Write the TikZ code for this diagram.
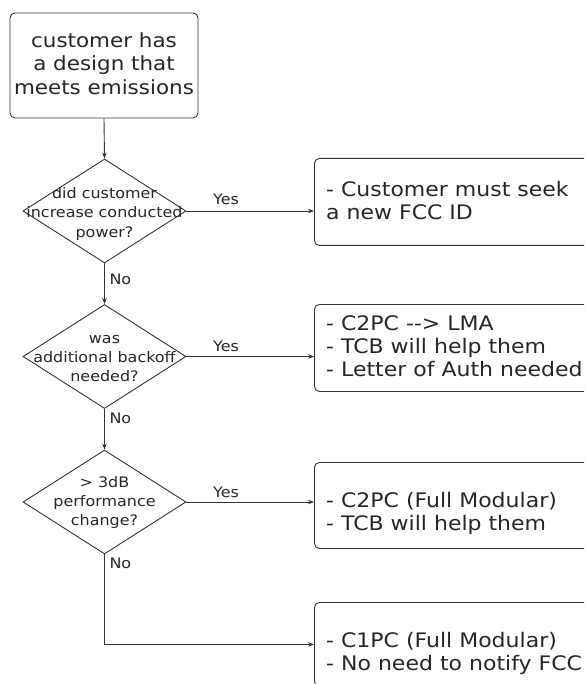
\documentclass[tikz,border=0pt]{standalone}
\usepackage{fontspec}
\setmainfont{DejaVu Sans}[FakeStretch=1.1]
\usetikzlibrary{shapes.geometric,arrows.meta}

\tikzset{
  flowline/.style={draw=black!80, line width=0.9pt},
  flowarrow/.style={flowline, -{Stealth[length=6pt,width=4.5pt]}},
  startbox/.style={draw=black!80, line width=0.9pt, rounded corners=5pt, minimum width=188pt, minimum height=105pt, inner sep=0pt},
  decision/.style={draw=black!80, line width=0.9pt, diamond, minimum width=163pt, minimum height=104pt, inner sep=0pt},
  resultbox/.style={draw=black!80, line width=0.9pt, rounded corners=5pt, anchor=north west, minimum width=300pt, inner sep=0pt},
  starttext/.style={align=center, inner sep=0pt, text=black!85, font=\fontsize{19.5}{23.5}\selectfont},
  qtext/.style={align=center, inner sep=0pt, text=black!85, font=\fontsize{14.5}{19}\selectfont},
  restext/.style={align=left, anchor=west, inner sep=0pt, text=black!85, font=\fontsize{20}{23}\selectfont},
  yesno/.style={text=black!85, font=\fontsize{14.5}{17}\selectfont}
}

\begin{document}
\begin{tikzpicture}[x=1pt, y=-1pt]
\clip (0,0) rectangle (584,684);

% start
\node[startbox] (start) at (104,65.5) {};
\node[starttext] (starttxt) at (104,63.5) {customer has\\a design that\\meets emissions};

% the three questions
\node[decision] (q1) at (104.5,211) {};
\node[qtext] (q1txt) at (104.5,214) {did customer\\increase conducted\\power?};
\node[decision] (q2) at (104.5,356.5) {};
\node[qtext] (q2txt) at (104.5,359) {was\\additional backoff\\needed?};
\node[decision] (q3) at (104.5,502) {};
\node[qtext] (q3txt) at (104.5,502) {> 3dB\\performance\\change?};

% outcomes
\node[resultbox, minimum height=87pt] (r1) at (314,158) {};
\node[restext] (r1txt) at (326,200.5) {- Customer must seek\\a new FCC ID};
\node[resultbox, minimum height=87pt] (r2) at (314,304) {};
\node[restext] (r2txt) at (326,346) {- C2PC {-}{-}> LMA\\- TCB will help them\\- Letter of Auth needed};
\node[resultbox, minimum height=86pt] (r3) at (314,462) {};
\node[restext] (r3txt) at (326,513.5) {- C2PC (Full Modular)\\- TCB will help them};
\node[resultbox, minimum height=84pt] (r4) at (314,602) {};
\node[restext] (r4txt) at (326,653.5) {- C1PC (Full Modular)\\- No need to notify FCC};

% connectors
\draw[flowarrow] (start.south) -- (q1.north);
\draw[flowarrow] (q1.south) -- (q2.north);
\draw[flowarrow] (q2.south) -- (q3.north);
\draw[flowarrow] (q1.east) -- (q1.east -| r1.west);
\draw[flowarrow] (q2.east) -- (q2.east -| r2.west);
\draw[flowarrow] (q3.east) -- (q3.east -| r3.west);
\draw[flowarrow] (q3.south) |- (r4.west);

% labels
\node[yesno] (yes1) at (226,199) {Yes};
\node[yesno] (yes2) at (226,346) {Yes};
\node[yesno] (yes3) at (226,492) {Yes};
\node[yesno, anchor=west] (no1) at (106,279) {No};
\node[yesno, anchor=west] (no2) at (106,418) {No};
\node[yesno, anchor=west] (no3) at (106,563) {No};
\end{tikzpicture}
\end{document}
